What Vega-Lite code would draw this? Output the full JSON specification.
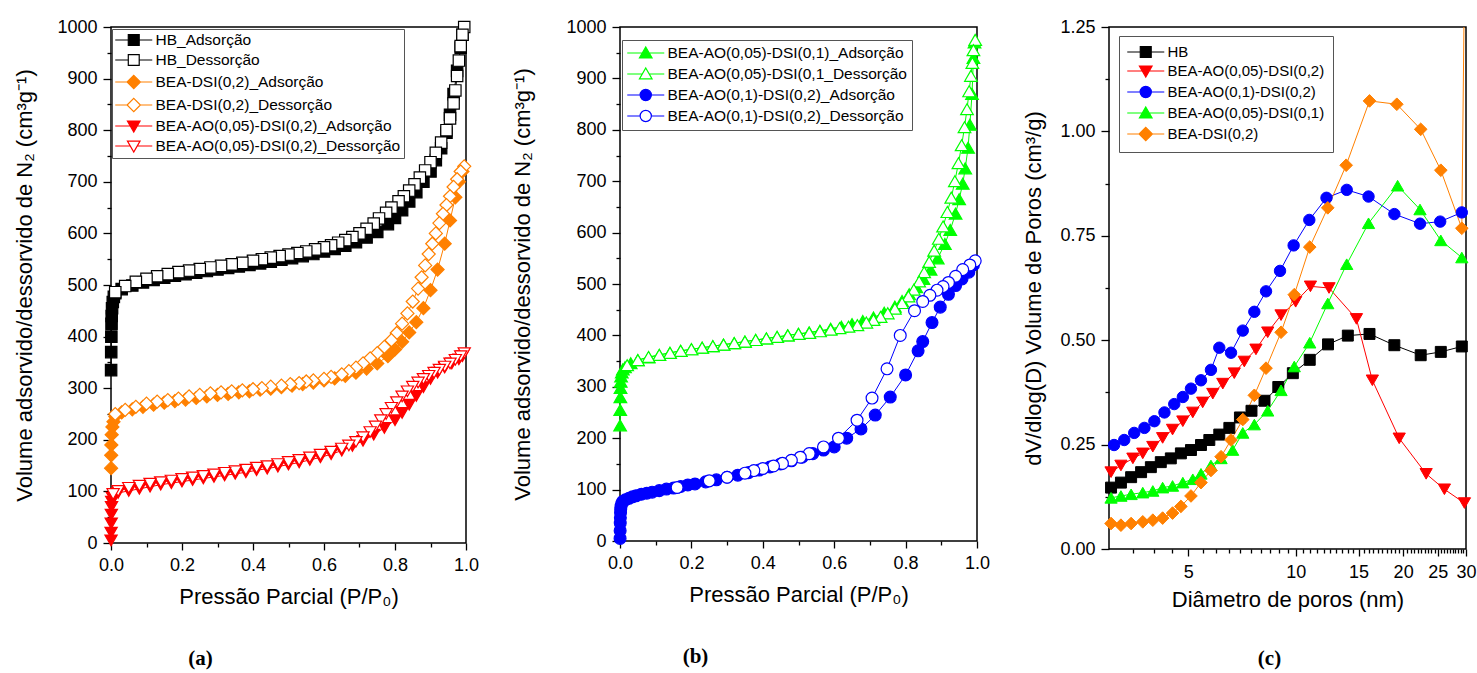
{
"$schema": "https://vega.github.io/schema/vega-lite/v6.json",
"background": "white",
"padding": {"left": 13, "top": 17, "right": 2, "bottom": 2},
"spacing": 31,
"resolve": {"scale": {"stroke": "independent", "fill": "independent", "shape": "independent"}, "legend": {"stroke": "independent", "fill": "independent", "shape": "independent"}},
"config": {
  "font": "Liberation Sans",
  "view": {"stroke": "black", "strokeWidth": 1.5},
  "axis": {"grid": false, "domain": false, "tickColor": "black", "tickWidth": 1.3, "labelColor": "black", "titleColor": "black", "labelFont": "Liberation Sans", "titleFont": "Liberation Sans", "labelFontSize": 18, "titleFontSize": 22, "titleFontWeight": "normal", "labelOverlap": false, "labelFlush": false, "labelBound": false},
  "legend": {"orient": "none", "strokeColor": "#555555", "fillColor": "white", "padding": 3, "labelFont": "Liberation Sans", "labelColor": "black", "labelLimit": 0, "symbolSize": 196, "labelOffset": 24.5, "rowPadding": 3, "symbolStrokeWidth": 1.2, "symbolOpacity": 1},
  "title": {"font": "Liberation Serif", "fontSize": 21, "fontWeight": "bold", "color": "black", "orient": "bottom", "anchor": "middle"}
},
"datasets": {
"a": [
{"s":"HB_Adsorção","p":0.0003,"v":335},{"s":"HB_Adsorção","p":0.0006,"v":370},{"s":"HB_Adsorção","p":0.001,"v":400},{"s":"HB_Adsorção","p":0.0015,"v":425},{"s":"HB_Adsorção","p":0.002,"v":440},{"s":"HB_Adsorção","p":0.003,"v":455},{"s":"HB_Adsorção","p":0.005,"v":467},{"s":"HB_Adsorção","p":0.008,"v":477},{"s":"HB_Adsorção","p":0.012,"v":484},{"s":"HB_Adsorção","p":0.03,"v":492},{"s":"HB_Adsorção","p":0.06,"v":499},{"s":"HB_Adsorção","p":0.09,"v":505},{"s":"HB_Adsorção","p":0.12,"v":510},{"s":"HB_Adsorção","p":0.15,"v":514},{"s":"HB_Adsorção","p":0.18,"v":518},{"s":"HB_Adsorção","p":0.21,"v":521},{"s":"HB_Adsorção","p":0.24,"v":524},{"s":"HB_Adsorção","p":0.27,"v":527},{"s":"HB_Adsorção","p":0.30,"v":530},{"s":"HB_Adsorção","p":0.33,"v":533},{"s":"HB_Adsorção","p":0.36,"v":536},{"s":"HB_Adsorção","p":0.39,"v":539},{"s":"HB_Adsorção","p":0.42,"v":542},{"s":"HB_Adsorção","p":0.45,"v":545},{"s":"HB_Adsorção","p":0.48,"v":549},{"s":"HB_Adsorção","p":0.51,"v":552},{"s":"HB_Adsorção","p":0.54,"v":556},{"s":"HB_Adsorção","p":0.57,"v":560},{"s":"HB_Adsorção","p":0.60,"v":565},{"s":"HB_Adsorção","p":0.63,"v":570},{"s":"HB_Adsorção","p":0.66,"v":576},{"s":"HB_Adsorção","p":0.69,"v":583},{"s":"HB_Adsorção","p":0.72,"v":592},{"s":"HB_Adsorção","p":0.75,"v":603},{"s":"HB_Adsorção","p":0.78,"v":618},{"s":"HB_Adsorção","p":0.80,"v":630},{"s":"HB_Adsorção","p":0.82,"v":645},{"s":"HB_Adsorção","p":0.84,"v":662},{"s":"HB_Adsorção","p":0.86,"v":680},{"s":"HB_Adsorção","p":0.88,"v":700},{"s":"HB_Adsorção","p":0.90,"v":720},{"s":"HB_Adsorção","p":0.915,"v":742},{"s":"HB_Adsorção","p":0.93,"v":765},{"s":"HB_Adsorção","p":0.945,"v":795},{"s":"HB_Adsorção","p":0.955,"v":830},{"s":"HB_Adsorção","p":0.965,"v":870},{"s":"HB_Adsorção","p":0.975,"v":915},{"s":"HB_Adsorção","p":0.985,"v":960},{"s":"HB_Adsorção","p":0.99,"v":985},
{"s":"HB_Dessorção","p":0.995,"v":1000},{"s":"HB_Dessorção","p":0.99,"v":985},{"s":"HB_Dessorção","p":0.985,"v":963},{"s":"HB_Dessorção","p":0.98,"v":935},{"s":"HB_Dessorção","p":0.975,"v":905},{"s":"HB_Dessorção","p":0.97,"v":877},{"s":"HB_Dessorção","p":0.965,"v":852},{"s":"HB_Dessorção","p":0.955,"v":823},{"s":"HB_Dessorção","p":0.945,"v":800},{"s":"HB_Dessorção","p":0.93,"v":776},{"s":"HB_Dessorção","p":0.915,"v":756},{"s":"HB_Dessorção","p":0.90,"v":738},{"s":"HB_Dessorção","p":0.885,"v":722},{"s":"HB_Dessorção","p":0.87,"v":708},{"s":"HB_Dessorção","p":0.855,"v":695},{"s":"HB_Dessorção","p":0.84,"v":683},{"s":"HB_Dessorção","p":0.825,"v":672},{"s":"HB_Dessorção","p":0.81,"v":662},{"s":"HB_Dessorção","p":0.79,"v":650},{"s":"HB_Dessorção","p":0.775,"v":640},{"s":"HB_Dessorção","p":0.755,"v":629},{"s":"HB_Dessorção","p":0.74,"v":619},{"s":"HB_Dessorção","p":0.72,"v":609},{"s":"HB_Dessorção","p":0.70,"v":600},{"s":"HB_Dessorção","p":0.68,"v":593},{"s":"HB_Dessorção","p":0.66,"v":587},{"s":"HB_Dessorção","p":0.64,"v":582},{"s":"HB_Dessorção","p":0.62,"v":577},{"s":"HB_Dessorção","p":0.60,"v":573},{"s":"HB_Dessorção","p":0.575,"v":569},{"s":"HB_Dessorção","p":0.55,"v":565},{"s":"HB_Dessorção","p":0.525,"v":562},{"s":"HB_Dessorção","p":0.50,"v":559},{"s":"HB_Dessorção","p":0.475,"v":556},{"s":"HB_Dessorção","p":0.45,"v":553},{"s":"HB_Dessorção","p":0.425,"v":550},{"s":"HB_Dessorção","p":0.40,"v":547},{"s":"HB_Dessorção","p":0.37,"v":543},{"s":"HB_Dessorção","p":0.34,"v":540},{"s":"HB_Dessorção","p":0.31,"v":537},{"s":"HB_Dessorção","p":0.28,"v":534},{"s":"HB_Dessorção","p":0.25,"v":531},{"s":"HB_Dessorção","p":0.22,"v":528},{"s":"HB_Dessorção","p":0.19,"v":525},{"s":"HB_Dessorção","p":0.16,"v":521},{"s":"HB_Dessorção","p":0.13,"v":517},{"s":"HB_Dessorção","p":0.10,"v":512},{"s":"HB_Dessorção","p":0.07,"v":506},{"s":"HB_Dessorção","p":0.04,"v":498},{"s":"HB_Dessorção","p":0.012,"v":486},
{"s":"BEA-DSI(0,2)_Adsorção","p":0.0003,"v":145},{"s":"BEA-DSI(0,2)_Adsorção","p":0.0006,"v":170},{"s":"BEA-DSI(0,2)_Adsorção","p":0.001,"v":190},{"s":"BEA-DSI(0,2)_Adsorção","p":0.002,"v":210},{"s":"BEA-DSI(0,2)_Adsorção","p":0.004,"v":225},{"s":"BEA-DSI(0,2)_Adsorção","p":0.007,"v":235},{"s":"BEA-DSI(0,2)_Adsorção","p":0.012,"v":245},{"s":"BEA-DSI(0,2)_Adsorção","p":0.03,"v":253},{"s":"BEA-DSI(0,2)_Adsorção","p":0.06,"v":259},{"s":"BEA-DSI(0,2)_Adsorção","p":0.09,"v":264},{"s":"BEA-DSI(0,2)_Adsorção","p":0.12,"v":268},{"s":"BEA-DSI(0,2)_Adsorção","p":0.15,"v":272},{"s":"BEA-DSI(0,2)_Adsorção","p":0.18,"v":275},{"s":"BEA-DSI(0,2)_Adsorção","p":0.21,"v":278},{"s":"BEA-DSI(0,2)_Adsorção","p":0.24,"v":281},{"s":"BEA-DSI(0,2)_Adsorção","p":0.27,"v":284},{"s":"BEA-DSI(0,2)_Adsorção","p":0.30,"v":287},{"s":"BEA-DSI(0,2)_Adsorção","p":0.33,"v":289},{"s":"BEA-DSI(0,2)_Adsorção","p":0.36,"v":292},{"s":"BEA-DSI(0,2)_Adsorção","p":0.39,"v":294},{"s":"BEA-DSI(0,2)_Adsorção","p":0.42,"v":297},{"s":"BEA-DSI(0,2)_Adsorção","p":0.45,"v":299},{"s":"BEA-DSI(0,2)_Adsorção","p":0.48,"v":302},{"s":"BEA-DSI(0,2)_Adsorção","p":0.51,"v":305},{"s":"BEA-DSI(0,2)_Adsorção","p":0.54,"v":308},{"s":"BEA-DSI(0,2)_Adsorção","p":0.57,"v":311},{"s":"BEA-DSI(0,2)_Adsorção","p":0.60,"v":315},{"s":"BEA-DSI(0,2)_Adsorção","p":0.63,"v":319},{"s":"BEA-DSI(0,2)_Adsorção","p":0.66,"v":324},{"s":"BEA-DSI(0,2)_Adsorção","p":0.69,"v":330},{"s":"BEA-DSI(0,2)_Adsorção","p":0.72,"v":338},{"s":"BEA-DSI(0,2)_Adsorção","p":0.75,"v":348},{"s":"BEA-DSI(0,2)_Adsorção","p":0.78,"v":362},{"s":"BEA-DSI(0,2)_Adsorção","p":0.80,"v":375},{"s":"BEA-DSI(0,2)_Adsorção","p":0.82,"v":390},{"s":"BEA-DSI(0,2)_Adsorção","p":0.84,"v":408},{"s":"BEA-DSI(0,2)_Adsorção","p":0.86,"v":428},{"s":"BEA-DSI(0,2)_Adsorção","p":0.88,"v":455},{"s":"BEA-DSI(0,2)_Adsorção","p":0.90,"v":490},{"s":"BEA-DSI(0,2)_Adsorção","p":0.92,"v":530},{"s":"BEA-DSI(0,2)_Adsorção","p":0.94,"v":580},{"s":"BEA-DSI(0,2)_Adsorção","p":0.955,"v":625},{"s":"BEA-DSI(0,2)_Adsorção","p":0.97,"v":670},{"s":"BEA-DSI(0,2)_Adsorção","p":0.98,"v":700},{"s":"BEA-DSI(0,2)_Adsorção","p":0.99,"v":720},
{"s":"BEA-DSI(0,2)_Dessorção","p":0.995,"v":730},{"s":"BEA-DSI(0,2)_Dessorção","p":0.985,"v":720},{"s":"BEA-DSI(0,2)_Dessorção","p":0.975,"v":705},{"s":"BEA-DSI(0,2)_Dessorção","p":0.965,"v":690},{"s":"BEA-DSI(0,2)_Dessorção","p":0.955,"v":672},{"s":"BEA-DSI(0,2)_Dessorção","p":0.945,"v":655},{"s":"BEA-DSI(0,2)_Dessorção","p":0.935,"v":638},{"s":"BEA-DSI(0,2)_Dessorção","p":0.925,"v":620},{"s":"BEA-DSI(0,2)_Dessorção","p":0.915,"v":600},{"s":"BEA-DSI(0,2)_Dessorção","p":0.905,"v":580},{"s":"BEA-DSI(0,2)_Dessorção","p":0.895,"v":560},{"s":"BEA-DSI(0,2)_Dessorção","p":0.885,"v":538},{"s":"BEA-DSI(0,2)_Dessorção","p":0.875,"v":515},{"s":"BEA-DSI(0,2)_Dessorção","p":0.865,"v":493},{"s":"BEA-DSI(0,2)_Dessorção","p":0.85,"v":468},{"s":"BEA-DSI(0,2)_Dessorção","p":0.835,"v":445},{"s":"BEA-DSI(0,2)_Dessorção","p":0.82,"v":425},{"s":"BEA-DSI(0,2)_Dessorção","p":0.805,"v":407},{"s":"BEA-DSI(0,2)_Dessorção","p":0.79,"v":393},{"s":"BEA-DSI(0,2)_Dessorção","p":0.77,"v":380},{"s":"BEA-DSI(0,2)_Dessorção","p":0.75,"v":368},{"s":"BEA-DSI(0,2)_Dessorção","p":0.73,"v":358},{"s":"BEA-DSI(0,2)_Dessorção","p":0.71,"v":348},{"s":"BEA-DSI(0,2)_Dessorção","p":0.69,"v":340},{"s":"BEA-DSI(0,2)_Dessorção","p":0.67,"v":333},{"s":"BEA-DSI(0,2)_Dessorção","p":0.65,"v":327},{"s":"BEA-DSI(0,2)_Dessorção","p":0.62,"v":322},{"s":"BEA-DSI(0,2)_Dessorção","p":0.60,"v":318},{"s":"BEA-DSI(0,2)_Dessorção","p":0.57,"v":315},{"s":"BEA-DSI(0,2)_Dessorção","p":0.55,"v":313},{"s":"BEA-DSI(0,2)_Dessorção","p":0.53,"v":310},{"s":"BEA-DSI(0,2)_Dessorção","p":0.505,"v":308},{"s":"BEA-DSI(0,2)_Dessorção","p":0.48,"v":305},{"s":"BEA-DSI(0,2)_Dessorção","p":0.45,"v":303},{"s":"BEA-DSI(0,2)_Dessorção","p":0.425,"v":300},{"s":"BEA-DSI(0,2)_Dessorção","p":0.40,"v":298},{"s":"BEA-DSI(0,2)_Dessorção","p":0.37,"v":296},{"s":"BEA-DSI(0,2)_Dessorção","p":0.34,"v":294},{"s":"BEA-DSI(0,2)_Dessorção","p":0.31,"v":292},{"s":"BEA-DSI(0,2)_Dessorção","p":0.28,"v":290},{"s":"BEA-DSI(0,2)_Dessorção","p":0.25,"v":287},{"s":"BEA-DSI(0,2)_Dessorção","p":0.22,"v":284},{"s":"BEA-DSI(0,2)_Dessorção","p":0.19,"v":280},{"s":"BEA-DSI(0,2)_Dessorção","p":0.16,"v":277},{"s":"BEA-DSI(0,2)_Dessorção","p":0.13,"v":274},{"s":"BEA-DSI(0,2)_Dessorção","p":0.10,"v":270},{"s":"BEA-DSI(0,2)_Dessorção","p":0.07,"v":264},{"s":"BEA-DSI(0,2)_Dessorção","p":0.04,"v":258},{"s":"BEA-DSI(0,2)_Dessorção","p":0.012,"v":250},
{"s":"BEA-AO(0,05)-DSI(0,2)_Adsorção","p":0.0001,"v":5},{"s":"BEA-AO(0,05)-DSI(0,2)_Adsorção","p":0.0003,"v":20},{"s":"BEA-AO(0,05)-DSI(0,2)_Adsorção","p":0.0006,"v":38},{"s":"BEA-AO(0,05)-DSI(0,2)_Adsorção","p":0.001,"v":55},{"s":"BEA-AO(0,05)-DSI(0,2)_Adsorção","p":0.0015,"v":70},{"s":"BEA-AO(0,05)-DSI(0,2)_Adsorção","p":0.002,"v":80},{"s":"BEA-AO(0,05)-DSI(0,2)_Adsorção","p":0.004,"v":88},{"s":"BEA-AO(0,05)-DSI(0,2)_Adsorção","p":0.008,"v":93},{"s":"BEA-AO(0,05)-DSI(0,2)_Adsorção","p":0.02,"v":97},{"s":"BEA-AO(0,05)-DSI(0,2)_Adsorção","p":0.05,"v":101},{"s":"BEA-AO(0,05)-DSI(0,2)_Adsorção","p":0.08,"v":105},{"s":"BEA-AO(0,05)-DSI(0,2)_Adsorção","p":0.11,"v":109},{"s":"BEA-AO(0,05)-DSI(0,2)_Adsorção","p":0.14,"v":113},{"s":"BEA-AO(0,05)-DSI(0,2)_Adsorção","p":0.17,"v":116},{"s":"BEA-AO(0,05)-DSI(0,2)_Adsorção","p":0.20,"v":119},{"s":"BEA-AO(0,05)-DSI(0,2)_Adsorção","p":0.23,"v":122},{"s":"BEA-AO(0,05)-DSI(0,2)_Adsorção","p":0.26,"v":125},{"s":"BEA-AO(0,05)-DSI(0,2)_Adsorção","p":0.29,"v":128},{"s":"BEA-AO(0,05)-DSI(0,2)_Adsorção","p":0.32,"v":131},{"s":"BEA-AO(0,05)-DSI(0,2)_Adsorção","p":0.35,"v":134},{"s":"BEA-AO(0,05)-DSI(0,2)_Adsorção","p":0.38,"v":137},{"s":"BEA-AO(0,05)-DSI(0,2)_Adsorção","p":0.41,"v":141},{"s":"BEA-AO(0,05)-DSI(0,2)_Adsorção","p":0.44,"v":144},{"s":"BEA-AO(0,05)-DSI(0,2)_Adsorção","p":0.47,"v":148},{"s":"BEA-AO(0,05)-DSI(0,2)_Adsorção","p":0.50,"v":152},{"s":"BEA-AO(0,05)-DSI(0,2)_Adsorção","p":0.53,"v":156},{"s":"BEA-AO(0,05)-DSI(0,2)_Adsorção","p":0.56,"v":161},{"s":"BEA-AO(0,05)-DSI(0,2)_Adsorção","p":0.59,"v":166},{"s":"BEA-AO(0,05)-DSI(0,2)_Adsorção","p":0.62,"v":172},{"s":"BEA-AO(0,05)-DSI(0,2)_Adsorção","p":0.65,"v":179},{"s":"BEA-AO(0,05)-DSI(0,2)_Adsorção","p":0.68,"v":188},{"s":"BEA-AO(0,05)-DSI(0,2)_Adsorção","p":0.71,"v":198},{"s":"BEA-AO(0,05)-DSI(0,2)_Adsorção","p":0.74,"v":210},{"s":"BEA-AO(0,05)-DSI(0,2)_Adsorção","p":0.77,"v":223},{"s":"BEA-AO(0,05)-DSI(0,2)_Adsorção","p":0.80,"v":238},{"s":"BEA-AO(0,05)-DSI(0,2)_Adsorção","p":0.82,"v":252},{"s":"BEA-AO(0,05)-DSI(0,2)_Adsorção","p":0.84,"v":268},{"s":"BEA-AO(0,05)-DSI(0,2)_Adsorção","p":0.86,"v":285},{"s":"BEA-AO(0,05)-DSI(0,2)_Adsorção","p":0.88,"v":302},{"s":"BEA-AO(0,05)-DSI(0,2)_Adsorção","p":0.90,"v":318},{"s":"BEA-AO(0,05)-DSI(0,2)_Adsorção","p":0.92,"v":330},{"s":"BEA-AO(0,05)-DSI(0,2)_Adsorção","p":0.94,"v":340},{"s":"BEA-AO(0,05)-DSI(0,2)_Adsorção","p":0.96,"v":348},{"s":"BEA-AO(0,05)-DSI(0,2)_Adsorção","p":0.98,"v":356},{"s":"BEA-AO(0,05)-DSI(0,2)_Adsorção","p":0.99,"v":362},
{"s":"BEA-AO(0,05)-DSI(0,2)_Dessorção","p":0.995,"v":368},{"s":"BEA-AO(0,05)-DSI(0,2)_Dessorção","p":0.985,"v":362},{"s":"BEA-AO(0,05)-DSI(0,2)_Dessorção","p":0.97,"v":355},{"s":"BEA-AO(0,05)-DSI(0,2)_Dessorção","p":0.955,"v":348},{"s":"BEA-AO(0,05)-DSI(0,2)_Dessorção","p":0.94,"v":342},{"s":"BEA-AO(0,05)-DSI(0,2)_Dessorção","p":0.925,"v":336},{"s":"BEA-AO(0,05)-DSI(0,2)_Dessorção","p":0.91,"v":330},{"s":"BEA-AO(0,05)-DSI(0,2)_Dessorção","p":0.895,"v":324},{"s":"BEA-AO(0,05)-DSI(0,2)_Dessorção","p":0.88,"v":318},{"s":"BEA-AO(0,05)-DSI(0,2)_Dessorção","p":0.865,"v":311},{"s":"BEA-AO(0,05)-DSI(0,2)_Dessorção","p":0.85,"v":303},{"s":"BEA-AO(0,05)-DSI(0,2)_Dessorção","p":0.835,"v":294},{"s":"BEA-AO(0,05)-DSI(0,2)_Dessorção","p":0.82,"v":284},{"s":"BEA-AO(0,05)-DSI(0,2)_Dessorção","p":0.805,"v":273},{"s":"BEA-AO(0,05)-DSI(0,2)_Dessorção","p":0.79,"v":262},{"s":"BEA-AO(0,05)-DSI(0,2)_Dessorção","p":0.775,"v":250},{"s":"BEA-AO(0,05)-DSI(0,2)_Dessorção","p":0.76,"v":238},{"s":"BEA-AO(0,05)-DSI(0,2)_Dessorção","p":0.745,"v":226},{"s":"BEA-AO(0,05)-DSI(0,2)_Dessorção","p":0.73,"v":215},{"s":"BEA-AO(0,05)-DSI(0,2)_Dessorção","p":0.71,"v":205},{"s":"BEA-AO(0,05)-DSI(0,2)_Dessorção","p":0.69,"v":196},{"s":"BEA-AO(0,05)-DSI(0,2)_Dessorção","p":0.67,"v":189},{"s":"BEA-AO(0,05)-DSI(0,2)_Dessorção","p":0.65,"v":183},{"s":"BEA-AO(0,05)-DSI(0,2)_Dessorção","p":0.62,"v":177},{"s":"BEA-AO(0,05)-DSI(0,2)_Dessorção","p":0.59,"v":171},{"s":"BEA-AO(0,05)-DSI(0,2)_Dessorção","p":0.56,"v":166},{"s":"BEA-AO(0,05)-DSI(0,2)_Dessorção","p":0.53,"v":161},{"s":"BEA-AO(0,05)-DSI(0,2)_Dessorção","p":0.50,"v":157},{"s":"BEA-AO(0,05)-DSI(0,2)_Dessorção","p":0.47,"v":153},{"s":"BEA-AO(0,05)-DSI(0,2)_Dessorção","p":0.44,"v":149},{"s":"BEA-AO(0,05)-DSI(0,2)_Dessorção","p":0.41,"v":146},{"s":"BEA-AO(0,05)-DSI(0,2)_Dessorção","p":0.38,"v":142},{"s":"BEA-AO(0,05)-DSI(0,2)_Dessorção","p":0.35,"v":139},{"s":"BEA-AO(0,05)-DSI(0,2)_Dessorção","p":0.32,"v":136},{"s":"BEA-AO(0,05)-DSI(0,2)_Dessorção","p":0.29,"v":133},{"s":"BEA-AO(0,05)-DSI(0,2)_Dessorção","p":0.26,"v":130},{"s":"BEA-AO(0,05)-DSI(0,2)_Dessorção","p":0.23,"v":127},{"s":"BEA-AO(0,05)-DSI(0,2)_Dessorção","p":0.20,"v":124},{"s":"BEA-AO(0,05)-DSI(0,2)_Dessorção","p":0.17,"v":121},{"s":"BEA-AO(0,05)-DSI(0,2)_Dessorção","p":0.14,"v":118},{"s":"BEA-AO(0,05)-DSI(0,2)_Dessorção","p":0.11,"v":115},{"s":"BEA-AO(0,05)-DSI(0,2)_Dessorção","p":0.08,"v":111},{"s":"BEA-AO(0,05)-DSI(0,2)_Dessorção","p":0.05,"v":107},{"s":"BEA-AO(0,05)-DSI(0,2)_Dessorção","p":0.02,"v":101},{"s":"BEA-AO(0,05)-DSI(0,2)_Dessorção","p":0.006,"v":95}
],
"b": [
{"s":"BEA-AO(0,05)-DSI(0,1)_Adsorção","p":0.0003,"v":225},{"s":"BEA-AO(0,05)-DSI(0,1)_Adsorção","p":0.0006,"v":255},{"s":"BEA-AO(0,05)-DSI(0,1)_Adsorção","p":0.001,"v":280},{"s":"BEA-AO(0,05)-DSI(0,1)_Adsorção","p":0.0015,"v":298},{"s":"BEA-AO(0,05)-DSI(0,1)_Adsorção","p":0.002,"v":310},{"s":"BEA-AO(0,05)-DSI(0,1)_Adsorção","p":0.003,"v":320},{"s":"BEA-AO(0,05)-DSI(0,1)_Adsorção","p":0.005,"v":328},{"s":"BEA-AO(0,05)-DSI(0,1)_Adsorção","p":0.008,"v":334},{"s":"BEA-AO(0,05)-DSI(0,1)_Adsorção","p":0.014,"v":338},{"s":"BEA-AO(0,05)-DSI(0,1)_Adsorção","p":0.03,"v":346},{"s":"BEA-AO(0,05)-DSI(0,1)_Adsorção","p":0.05,"v":352},{"s":"BEA-AO(0,05)-DSI(0,1)_Adsorção","p":0.08,"v":357},{"s":"BEA-AO(0,05)-DSI(0,1)_Adsorção","p":0.11,"v":362},{"s":"BEA-AO(0,05)-DSI(0,1)_Adsorção","p":0.14,"v":366},{"s":"BEA-AO(0,05)-DSI(0,1)_Adsorção","p":0.17,"v":370},{"s":"BEA-AO(0,05)-DSI(0,1)_Adsorção","p":0.20,"v":373},{"s":"BEA-AO(0,05)-DSI(0,1)_Adsorção","p":0.23,"v":376},{"s":"BEA-AO(0,05)-DSI(0,1)_Adsorção","p":0.26,"v":379},{"s":"BEA-AO(0,05)-DSI(0,1)_Adsorção","p":0.29,"v":382},{"s":"BEA-AO(0,05)-DSI(0,1)_Adsorção","p":0.32,"v":385},{"s":"BEA-AO(0,05)-DSI(0,1)_Adsorção","p":0.35,"v":388},{"s":"BEA-AO(0,05)-DSI(0,1)_Adsorção","p":0.38,"v":391},{"s":"BEA-AO(0,05)-DSI(0,1)_Adsorção","p":0.41,"v":394},{"s":"BEA-AO(0,05)-DSI(0,1)_Adsorção","p":0.44,"v":397},{"s":"BEA-AO(0,05)-DSI(0,1)_Adsorção","p":0.47,"v":400},{"s":"BEA-AO(0,05)-DSI(0,1)_Adsorção","p":0.50,"v":403},{"s":"BEA-AO(0,05)-DSI(0,1)_Adsorção","p":0.53,"v":406},{"s":"BEA-AO(0,05)-DSI(0,1)_Adsorção","p":0.56,"v":409},{"s":"BEA-AO(0,05)-DSI(0,1)_Adsorção","p":0.59,"v":413},{"s":"BEA-AO(0,05)-DSI(0,1)_Adsorção","p":0.62,"v":417},{"s":"BEA-AO(0,05)-DSI(0,1)_Adsorção","p":0.65,"v":422},{"s":"BEA-AO(0,05)-DSI(0,1)_Adsorção","p":0.68,"v":428},{"s":"BEA-AO(0,05)-DSI(0,1)_Adsorção","p":0.71,"v":435},{"s":"BEA-AO(0,05)-DSI(0,1)_Adsorção","p":0.74,"v":444},{"s":"BEA-AO(0,05)-DSI(0,1)_Adsorção","p":0.77,"v":456},{"s":"BEA-AO(0,05)-DSI(0,1)_Adsorção","p":0.79,"v":467},{"s":"BEA-AO(0,05)-DSI(0,1)_Adsorção","p":0.81,"v":480},{"s":"BEA-AO(0,05)-DSI(0,1)_Adsorção","p":0.83,"v":494},{"s":"BEA-AO(0,05)-DSI(0,1)_Adsorção","p":0.85,"v":510},{"s":"BEA-AO(0,05)-DSI(0,1)_Adsorção","p":0.87,"v":528},{"s":"BEA-AO(0,05)-DSI(0,1)_Adsorção","p":0.89,"v":550},{"s":"BEA-AO(0,05)-DSI(0,1)_Adsorção","p":0.91,"v":578},{"s":"BEA-AO(0,05)-DSI(0,1)_Adsorção","p":0.925,"v":605},{"s":"BEA-AO(0,05)-DSI(0,1)_Adsorção","p":0.94,"v":637},{"s":"BEA-AO(0,05)-DSI(0,1)_Adsorção","p":0.95,"v":665},{"s":"BEA-AO(0,05)-DSI(0,1)_Adsorção","p":0.96,"v":695},{"s":"BEA-AO(0,05)-DSI(0,1)_Adsorção","p":0.967,"v":725},{"s":"BEA-AO(0,05)-DSI(0,1)_Adsorção","p":0.975,"v":765},{"s":"BEA-AO(0,05)-DSI(0,1)_Adsorção","p":0.98,"v":810},{"s":"BEA-AO(0,05)-DSI(0,1)_Adsorção","p":0.986,"v":870},{"s":"BEA-AO(0,05)-DSI(0,1)_Adsorção","p":0.99,"v":940},{"s":"BEA-AO(0,05)-DSI(0,1)_Adsorção","p":0.993,"v":970},
{"s":"BEA-AO(0,05)-DSI(0,1_Dessorção","p":0.995,"v":975},{"s":"BEA-AO(0,05)-DSI(0,1_Dessorção","p":0.99,"v":955},{"s":"BEA-AO(0,05)-DSI(0,1_Dessorção","p":0.987,"v":930},{"s":"BEA-AO(0,05)-DSI(0,1_Dessorção","p":0.983,"v":905},{"s":"BEA-AO(0,05)-DSI(0,1_Dessorção","p":0.978,"v":875},{"s":"BEA-AO(0,05)-DSI(0,1_Dessorção","p":0.972,"v":840},{"s":"BEA-AO(0,05)-DSI(0,1_Dessorção","p":0.965,"v":805},{"s":"BEA-AO(0,05)-DSI(0,1_Dessorção","p":0.957,"v":770},{"s":"BEA-AO(0,05)-DSI(0,1_Dessorção","p":0.948,"v":735},{"s":"BEA-AO(0,05)-DSI(0,1_Dessorção","p":0.938,"v":700},{"s":"BEA-AO(0,05)-DSI(0,1_Dessorção","p":0.928,"v":668},{"s":"BEA-AO(0,05)-DSI(0,1_Dessorção","p":0.917,"v":640},{"s":"BEA-AO(0,05)-DSI(0,1_Dessorção","p":0.905,"v":612},{"s":"BEA-AO(0,05)-DSI(0,1_Dessorção","p":0.893,"v":588},{"s":"BEA-AO(0,05)-DSI(0,1_Dessorção","p":0.88,"v":565},{"s":"BEA-AO(0,05)-DSI(0,1_Dessorção","p":0.866,"v":543},{"s":"BEA-AO(0,05)-DSI(0,1_Dessorção","p":0.852,"v":523},{"s":"BEA-AO(0,05)-DSI(0,1_Dessorção","p":0.838,"v":505},{"s":"BEA-AO(0,05)-DSI(0,1_Dessorção","p":0.823,"v":489},{"s":"BEA-AO(0,05)-DSI(0,1_Dessorção","p":0.808,"v":476},{"s":"BEA-AO(0,05)-DSI(0,1_Dessorção","p":0.79,"v":463},{"s":"BEA-AO(0,05)-DSI(0,1_Dessorção","p":0.77,"v":452},{"s":"BEA-AO(0,05)-DSI(0,1_Dessorção","p":0.75,"v":443},{"s":"BEA-AO(0,05)-DSI(0,1_Dessorção","p":0.73,"v":436},{"s":"BEA-AO(0,05)-DSI(0,1_Dessorção","p":0.71,"v":430},{"s":"BEA-AO(0,05)-DSI(0,1_Dessorção","p":0.69,"v":425},{"s":"BEA-AO(0,05)-DSI(0,1_Dessorção","p":0.665,"v":420},{"s":"BEA-AO(0,05)-DSI(0,1_Dessorção","p":0.64,"v":417},{"s":"BEA-AO(0,05)-DSI(0,1_Dessorção","p":0.615,"v":414},{"s":"BEA-AO(0,05)-DSI(0,1_Dessorção","p":0.59,"v":411},{"s":"BEA-AO(0,05)-DSI(0,1_Dessorção","p":0.56,"v":408},{"s":"BEA-AO(0,05)-DSI(0,1_Dessorção","p":0.53,"v":405},{"s":"BEA-AO(0,05)-DSI(0,1_Dessorção","p":0.50,"v":403},{"s":"BEA-AO(0,05)-DSI(0,1_Dessorção","p":0.47,"v":400},{"s":"BEA-AO(0,05)-DSI(0,1_Dessorção","p":0.44,"v":397},{"s":"BEA-AO(0,05)-DSI(0,1_Dessorção","p":0.41,"v":394},{"s":"BEA-AO(0,05)-DSI(0,1_Dessorção","p":0.38,"v":391},{"s":"BEA-AO(0,05)-DSI(0,1_Dessorção","p":0.35,"v":388},{"s":"BEA-AO(0,05)-DSI(0,1_Dessorção","p":0.32,"v":385},{"s":"BEA-AO(0,05)-DSI(0,1_Dessorção","p":0.29,"v":382},{"s":"BEA-AO(0,05)-DSI(0,1_Dessorção","p":0.26,"v":379},{"s":"BEA-AO(0,05)-DSI(0,1_Dessorção","p":0.23,"v":376},{"s":"BEA-AO(0,05)-DSI(0,1_Dessorção","p":0.20,"v":373},{"s":"BEA-AO(0,05)-DSI(0,1_Dessorção","p":0.17,"v":370},{"s":"BEA-AO(0,05)-DSI(0,1_Dessorção","p":0.14,"v":366},{"s":"BEA-AO(0,05)-DSI(0,1_Dessorção","p":0.11,"v":362},{"s":"BEA-AO(0,05)-DSI(0,1_Dessorção","p":0.08,"v":358},{"s":"BEA-AO(0,05)-DSI(0,1_Dessorção","p":0.05,"v":352},{"s":"BEA-AO(0,05)-DSI(0,1_Dessorção","p":0.02,"v":342},
{"s":"BEA-AO(0,1)-DSI(0,2)_Adsorção","p":0.0002,"v":5},{"s":"BEA-AO(0,1)-DSI(0,2)_Adsorção","p":0.0004,"v":20},{"s":"BEA-AO(0,1)-DSI(0,2)_Adsorção","p":0.0007,"v":35},{"s":"BEA-AO(0,1)-DSI(0,2)_Adsorção","p":0.001,"v":45},{"s":"BEA-AO(0,1)-DSI(0,2)_Adsorção","p":0.0015,"v":55},{"s":"BEA-AO(0,1)-DSI(0,2)_Adsorção","p":0.002,"v":62},{"s":"BEA-AO(0,1)-DSI(0,2)_Adsorção","p":0.003,"v":68},{"s":"BEA-AO(0,1)-DSI(0,2)_Adsorção","p":0.005,"v":73},{"s":"BEA-AO(0,1)-DSI(0,2)_Adsorção","p":0.008,"v":77},{"s":"BEA-AO(0,1)-DSI(0,2)_Adsorção","p":0.015,"v":80},{"s":"BEA-AO(0,1)-DSI(0,2)_Adsorção","p":0.025,"v":83},{"s":"BEA-AO(0,1)-DSI(0,2)_Adsorção","p":0.035,"v":86},{"s":"BEA-AO(0,1)-DSI(0,2)_Adsorção","p":0.045,"v":88},{"s":"BEA-AO(0,1)-DSI(0,2)_Adsorção","p":0.06,"v":91},{"s":"BEA-AO(0,1)-DSI(0,2)_Adsorção","p":0.075,"v":93},{"s":"BEA-AO(0,1)-DSI(0,2)_Adsorção","p":0.09,"v":95},{"s":"BEA-AO(0,1)-DSI(0,2)_Adsorção","p":0.11,"v":98},{"s":"BEA-AO(0,1)-DSI(0,2)_Adsorção","p":0.13,"v":101},{"s":"BEA-AO(0,1)-DSI(0,2)_Adsorção","p":0.15,"v":103},{"s":"BEA-AO(0,1)-DSI(0,2)_Adsorção","p":0.17,"v":106},{"s":"BEA-AO(0,1)-DSI(0,2)_Adsorção","p":0.19,"v":109},{"s":"BEA-AO(0,1)-DSI(0,2)_Adsorção","p":0.21,"v":111},{"s":"BEA-AO(0,1)-DSI(0,2)_Adsorção","p":0.24,"v":115},{"s":"BEA-AO(0,1)-DSI(0,2)_Adsorção","p":0.27,"v":119},{"s":"BEA-AO(0,1)-DSI(0,2)_Adsorção","p":0.30,"v":124},{"s":"BEA-AO(0,1)-DSI(0,2)_Adsorção","p":0.33,"v":128},{"s":"BEA-AO(0,1)-DSI(0,2)_Adsorção","p":0.36,"v":133},{"s":"BEA-AO(0,1)-DSI(0,2)_Adsorção","p":0.39,"v":138},{"s":"BEA-AO(0,1)-DSI(0,2)_Adsorção","p":0.42,"v":144},{"s":"BEA-AO(0,1)-DSI(0,2)_Adsorção","p":0.45,"v":150},{"s":"BEA-AO(0,1)-DSI(0,2)_Adsorção","p":0.48,"v":156},{"s":"BEA-AO(0,1)-DSI(0,2)_Adsorção","p":0.51,"v":163},{"s":"BEA-AO(0,1)-DSI(0,2)_Adsorção","p":0.54,"v":170},{"s":"BEA-AO(0,1)-DSI(0,2)_Adsorção","p":0.57,"v":177},{"s":"BEA-AO(0,1)-DSI(0,2)_Adsorção","p":0.60,"v":183},{"s":"BEA-AO(0,1)-DSI(0,2)_Adsorção","p":0.635,"v":200},{"s":"BEA-AO(0,1)-DSI(0,2)_Adsorção","p":0.675,"v":218},{"s":"BEA-AO(0,1)-DSI(0,2)_Adsorção","p":0.715,"v":245},{"s":"BEA-AO(0,1)-DSI(0,2)_Adsorção","p":0.757,"v":280},{"s":"BEA-AO(0,1)-DSI(0,2)_Adsorção","p":0.80,"v":323},{"s":"BEA-AO(0,1)-DSI(0,2)_Adsorção","p":0.835,"v":370},{"s":"BEA-AO(0,1)-DSI(0,2)_Adsorção","p":0.848,"v":388},{"s":"BEA-AO(0,1)-DSI(0,2)_Adsorção","p":0.874,"v":425},{"s":"BEA-AO(0,1)-DSI(0,2)_Adsorção","p":0.897,"v":455},{"s":"BEA-AO(0,1)-DSI(0,2)_Adsorção","p":0.92,"v":480},{"s":"BEA-AO(0,1)-DSI(0,2)_Adsorção","p":0.94,"v":497},{"s":"BEA-AO(0,1)-DSI(0,2)_Adsorção","p":0.958,"v":510},{"s":"BEA-AO(0,1)-DSI(0,2)_Adsorção","p":0.977,"v":523},{"s":"BEA-AO(0,1)-DSI(0,2)_Adsorção","p":0.99,"v":537},
{"s":"BEA-AO(0,1)-DSI(0,2)_Dessorção","p":0.995,"v":545},{"s":"BEA-AO(0,1)-DSI(0,2)_Dessorção","p":0.98,"v":537},{"s":"BEA-AO(0,1)-DSI(0,2)_Dessorção","p":0.96,"v":528},{"s":"BEA-AO(0,1)-DSI(0,2)_Dessorção","p":0.94,"v":515},{"s":"BEA-AO(0,1)-DSI(0,2)_Dessorção","p":0.92,"v":503},{"s":"BEA-AO(0,1)-DSI(0,2)_Dessorção","p":0.905,"v":495},{"s":"BEA-AO(0,1)-DSI(0,2)_Dessorção","p":0.888,"v":488},{"s":"BEA-AO(0,1)-DSI(0,2)_Dessorção","p":0.868,"v":478},{"s":"BEA-AO(0,1)-DSI(0,2)_Dessorção","p":0.848,"v":466},{"s":"BEA-AO(0,1)-DSI(0,2)_Dessorção","p":0.825,"v":448},{"s":"BEA-AO(0,1)-DSI(0,2)_Dessorção","p":0.785,"v":400},{"s":"BEA-AO(0,1)-DSI(0,2)_Dessorção","p":0.748,"v":335},{"s":"BEA-AO(0,1)-DSI(0,2)_Dessorção","p":0.706,"v":278},{"s":"BEA-AO(0,1)-DSI(0,2)_Dessorção","p":0.664,"v":235},{"s":"BEA-AO(0,1)-DSI(0,2)_Dessorção","p":0.612,"v":200},{"s":"BEA-AO(0,1)-DSI(0,2)_Dessorção","p":0.57,"v":183},{"s":"BEA-AO(0,1)-DSI(0,2)_Dessorção","p":0.53,"v":170},{"s":"BEA-AO(0,1)-DSI(0,2)_Dessorção","p":0.505,"v":163},{"s":"BEA-AO(0,1)-DSI(0,2)_Dessorção","p":0.48,"v":157},{"s":"BEA-AO(0,1)-DSI(0,2)_Dessorção","p":0.455,"v":151},{"s":"BEA-AO(0,1)-DSI(0,2)_Dessorção","p":0.43,"v":146},{"s":"BEA-AO(0,1)-DSI(0,2)_Dessorção","p":0.40,"v":141},{"s":"BEA-AO(0,1)-DSI(0,2)_Dessorção","p":0.375,"v":137},{"s":"BEA-AO(0,1)-DSI(0,2)_Dessorção","p":0.35,"v":132},{"s":"BEA-AO(0,1)-DSI(0,2)_Dessorção","p":0.30,"v":124},{"s":"BEA-AO(0,1)-DSI(0,2)_Dessorção","p":0.25,"v":117},{"s":"BEA-AO(0,1)-DSI(0,2)_Dessorção","p":0.16,"v":104}
],
"c": [
{"s":"HB","d":3.04,"v":0.147},{"s":"HB","d":3.24,"v":0.159},{"s":"HB","d":3.46,"v":0.172},{"s":"HB","d":3.69,"v":0.184},{"s":"HB","d":3.93,"v":0.196},{"s":"HB","d":4.19,"v":0.208},{"s":"HB","d":4.47,"v":0.217},{"s":"HB","d":4.77,"v":0.229},{"s":"HB","d":5.09,"v":0.237},{"s":"HB","d":5.43,"v":0.249},{"s":"HB","d":5.73,"v":0.261},{"s":"HB","d":6.11,"v":0.274},{"s":"HB","d":6.52,"v":0.29},{"s":"HB","d":6.98,"v":0.315},{"s":"HB","d":7.52,"v":0.331},{"s":"HB","d":8.18,"v":0.355},{"s":"HB","d":8.94,"v":0.388},{"s":"HB","d":9.82,"v":0.421},{"s":"HB","d":10.95,"v":0.453},{"s":"HB","d":12.32,"v":0.49},{"s":"HB","d":14.0,"v":0.511},{"s":"HB","d":16.1,"v":0.515},{"s":"HB","d":18.9,"v":0.488},{"s":"HB","d":22.4,"v":0.464},{"s":"HB","d":25.5,"v":0.472},{"s":"HB","d":29.2,"v":0.485},
{"s":"BEA-AO(0,05)-DSI(0,2)","d":3.04,"v":0.184},{"s":"BEA-AO(0,05)-DSI(0,2)","d":3.24,"v":0.2},{"s":"BEA-AO(0,05)-DSI(0,2)","d":3.5,"v":0.217},{"s":"BEA-AO(0,05)-DSI(0,2)","d":3.73,"v":0.229},{"s":"BEA-AO(0,05)-DSI(0,2)","d":3.98,"v":0.245},{"s":"BEA-AO(0,05)-DSI(0,2)","d":4.24,"v":0.266},{"s":"BEA-AO(0,05)-DSI(0,2)","d":4.52,"v":0.286},{"s":"BEA-AO(0,05)-DSI(0,2)","d":4.83,"v":0.306},{"s":"BEA-AO(0,05)-DSI(0,2)","d":5.15,"v":0.327},{"s":"BEA-AO(0,05)-DSI(0,2)","d":5.49,"v":0.351},{"s":"BEA-AO(0,05)-DSI(0,2)","d":5.86,"v":0.372},{"s":"BEA-AO(0,05)-DSI(0,2)","d":6.25,"v":0.396},{"s":"BEA-AO(0,05)-DSI(0,2)","d":6.73,"v":0.421},{"s":"BEA-AO(0,05)-DSI(0,2)","d":7.18,"v":0.449},{"s":"BEA-AO(0,05)-DSI(0,2)","d":7.74,"v":0.478},{"s":"BEA-AO(0,05)-DSI(0,2)","d":8.35,"v":0.519},{"s":"BEA-AO(0,05)-DSI(0,2)","d":9.1,"v":0.56},{"s":"BEA-AO(0,05)-DSI(0,2)","d":10.0,"v":0.592},{"s":"BEA-AO(0,05)-DSI(0,2)","d":11.0,"v":0.629},{"s":"BEA-AO(0,05)-DSI(0,2)","d":12.4,"v":0.625},{"s":"BEA-AO(0,05)-DSI(0,2)","d":14.8,"v":0.551},{"s":"BEA-AO(0,05)-DSI(0,2)","d":16.4,"v":0.404},{"s":"BEA-AO(0,05)-DSI(0,2)","d":19.5,"v":0.265},{"s":"BEA-AO(0,05)-DSI(0,2)","d":23.2,"v":0.18},{"s":"BEA-AO(0,05)-DSI(0,2)","d":26.1,"v":0.143},{"s":"BEA-AO(0,05)-DSI(0,2)","d":29.7,"v":0.11},
{"s":"BEA-AO(0,1)-DSI(0,2)","d":3.1,"v":0.249},{"s":"BEA-AO(0,1)-DSI(0,2)","d":3.31,"v":0.261},{"s":"BEA-AO(0,1)-DSI(0,2)","d":3.53,"v":0.278},{"s":"BEA-AO(0,1)-DSI(0,2)","d":3.77,"v":0.29},{"s":"BEA-AO(0,1)-DSI(0,2)","d":4.02,"v":0.306},{"s":"BEA-AO(0,1)-DSI(0,2)","d":4.29,"v":0.327},{"s":"BEA-AO(0,1)-DSI(0,2)","d":4.57,"v":0.347},{"s":"BEA-AO(0,1)-DSI(0,2)","d":4.83,"v":0.364},{"s":"BEA-AO(0,1)-DSI(0,2)","d":5.09,"v":0.384},{"s":"BEA-AO(0,1)-DSI(0,2)","d":5.43,"v":0.404},{"s":"BEA-AO(0,1)-DSI(0,2)","d":5.79,"v":0.429},{"s":"BEA-AO(0,1)-DSI(0,2)","d":6.11,"v":0.482},{"s":"BEA-AO(0,1)-DSI(0,2)","d":6.59,"v":0.47},{"s":"BEA-AO(0,1)-DSI(0,2)","d":7.11,"v":0.523},{"s":"BEA-AO(0,1)-DSI(0,2)","d":7.66,"v":0.568},{"s":"BEA-AO(0,1)-DSI(0,2)","d":8.26,"v":0.617},{"s":"BEA-AO(0,1)-DSI(0,2)","d":9.04,"v":0.666},{"s":"BEA-AO(0,1)-DSI(0,2)","d":9.87,"v":0.727},{"s":"BEA-AO(0,1)-DSI(0,2)","d":10.92,"v":0.788},{"s":"BEA-AO(0,1)-DSI(0,2)","d":12.2,"v":0.841},{"s":"BEA-AO(0,1)-DSI(0,2)","d":13.9,"v":0.86},{"s":"BEA-AO(0,1)-DSI(0,2)","d":16.0,"v":0.844},{"s":"BEA-AO(0,1)-DSI(0,2)","d":18.9,"v":0.802},{"s":"BEA-AO(0,1)-DSI(0,2)","d":22.3,"v":0.779},{"s":"BEA-AO(0,1)-DSI(0,2)","d":25.4,"v":0.784},{"s":"BEA-AO(0,1)-DSI(0,2)","d":29.2,"v":0.806},
{"s":"BEA-AO(0,05)-DSI(0,1)","d":3.04,"v":0.1225},{"s":"BEA-AO(0,05)-DSI(0,1)","d":3.24,"v":0.127},{"s":"BEA-AO(0,05)-DSI(0,1)","d":3.46,"v":0.131},{"s":"BEA-AO(0,05)-DSI(0,1)","d":3.73,"v":0.135},{"s":"BEA-AO(0,05)-DSI(0,1)","d":3.98,"v":0.139},{"s":"BEA-AO(0,05)-DSI(0,1)","d":4.24,"v":0.147},{"s":"BEA-AO(0,05)-DSI(0,1)","d":4.52,"v":0.151},{"s":"BEA-AO(0,05)-DSI(0,1)","d":4.83,"v":0.159},{"s":"BEA-AO(0,05)-DSI(0,1)","d":5.15,"v":0.167},{"s":"BEA-AO(0,05)-DSI(0,1)","d":5.43,"v":0.18},{"s":"BEA-AO(0,05)-DSI(0,1)","d":5.79,"v":0.2},{"s":"BEA-AO(0,05)-DSI(0,1)","d":6.18,"v":0.217},{"s":"BEA-AO(0,05)-DSI(0,1)","d":6.66,"v":0.237},{"s":"BEA-AO(0,05)-DSI(0,1)","d":7.11,"v":0.278},{"s":"BEA-AO(0,05)-DSI(0,1)","d":7.66,"v":0.298},{"s":"BEA-AO(0,05)-DSI(0,1)","d":8.35,"v":0.331},{"s":"BEA-AO(0,05)-DSI(0,1)","d":9.1,"v":0.38},{"s":"BEA-AO(0,05)-DSI(0,1)","d":9.91,"v":0.437},{"s":"BEA-AO(0,05)-DSI(0,1)","d":10.95,"v":0.494},{"s":"BEA-AO(0,05)-DSI(0,1)","d":12.3,"v":0.588},{"s":"BEA-AO(0,05)-DSI(0,1)","d":13.9,"v":0.682},{"s":"BEA-AO(0,05)-DSI(0,1)","d":16.0,"v":0.78},{"s":"BEA-AO(0,05)-DSI(0,1)","d":19.3,"v":0.87},{"s":"BEA-AO(0,05)-DSI(0,1)","d":22.3,"v":0.813},{"s":"BEA-AO(0,05)-DSI(0,1)","d":25.5,"v":0.739},{"s":"BEA-AO(0,05)-DSI(0,1)","d":29.2,"v":0.698},
{"s":"BEA-DSI(0,2)","d":3.04,"v":0.061},{"s":"BEA-DSI(0,2)","d":3.24,"v":0.057},{"s":"BEA-DSI(0,2)","d":3.46,"v":0.061},{"s":"BEA-DSI(0,2)","d":3.73,"v":0.065},{"s":"BEA-DSI(0,2)","d":3.98,"v":0.069},{"s":"BEA-DSI(0,2)","d":4.24,"v":0.074},{"s":"BEA-DSI(0,2)","d":4.52,"v":0.086},{"s":"BEA-DSI(0,2)","d":4.77,"v":0.102},{"s":"BEA-DSI(0,2)","d":5.09,"v":0.127},{"s":"BEA-DSI(0,2)","d":5.43,"v":0.159},{"s":"BEA-DSI(0,2)","d":5.79,"v":0.188},{"s":"BEA-DSI(0,2)","d":6.18,"v":0.221},{"s":"BEA-DSI(0,2)","d":6.59,"v":0.261},{"s":"BEA-DSI(0,2)","d":7.11,"v":0.31},{"s":"BEA-DSI(0,2)","d":7.66,"v":0.368},{"s":"BEA-DSI(0,2)","d":8.26,"v":0.433},{"s":"BEA-DSI(0,2)","d":9.1,"v":0.519},{"s":"BEA-DSI(0,2)","d":9.91,"v":0.609},{"s":"BEA-DSI(0,2)","d":10.95,"v":0.723},{"s":"BEA-DSI(0,2)","d":12.3,"v":0.817},{"s":"BEA-DSI(0,2)","d":13.85,"v":0.919},{"s":"BEA-DSI(0,2)","d":16.1,"v":1.073},{"s":"BEA-DSI(0,2)","d":19.2,"v":1.065},{"s":"BEA-DSI(0,2)","d":22.4,"v":1.005},{"s":"BEA-DSI(0,2)","d":25.5,"v":0.907},{"s":"BEA-DSI(0,2)","d":29.2,"v":0.768},{"s":"BEA-DSI(0,2)","d":29.9,"v":1.6}
]
},
"hconcat": [
{
  "width": 355, "height": 516,
  "data": {"name": "a"},
  "title": {"text": "(a)", "dx": -88, "offset": 41},
  "resolve": {"axis": {"x": "independent", "y": "independent"}},
  "encoding": {
    "x": {"field": "p", "type": "quantitative", "scale": {"domain": [0, 1], "nice": false, "zero": false}, "axis": null},
    "y": {"field": "v", "type": "quantitative", "scale": {"domain": [0, 1000], "nice": false}, "axis": null},
    "stroke": {"field": "s", "type": "nominal", "sort": null, "legend": {"title": null, "legendX": 1, "legendY": 2, "padding": 3, "labelFontSize": 15.5},
      "scale": {"domain": ["HB_Adsorção","HB_Dessorção","BEA-DSI(0,2)_Adsorção","BEA-DSI(0,2)_Dessorção","BEA-AO(0,05)-DSI(0,2)_Adsorção","BEA-AO(0,05)-DSI(0,2)_Dessorção"], "range": ["#000000","#000000","#FF8000","#FF8000","#FF0000","#FF0000"]}},
    "fill": {"field": "s", "type": "nominal", "sort": null, "legend": {"title": null, "legendX": 1, "legendY": 2, "padding": 3, "labelFontSize": 15.5},
      "scale": {"domain": ["HB_Adsorção","HB_Dessorção","BEA-DSI(0,2)_Adsorção","BEA-DSI(0,2)_Dessorção","BEA-AO(0,05)-DSI(0,2)_Adsorção","BEA-AO(0,05)-DSI(0,2)_Dessorção"], "range": ["#000000","#FFFFFF","#FF8000","#FFFFFF","#FF0000","#FFFFFF"]}}
  },
  "layer": [
    {"mark": {"type": "line", "strokeWidth": 1},
     "encoding": {"fill": {"value": null},
       "x": {"field": "p", "type": "quantitative", "scale": {"domain": [0, 1], "nice": false, "zero": false},
         "axis": {"title": "Pressão Parcial (P/P₀)", "orient": "bottom", "values": [0,0.2,0.4,0.6,0.8,1], "format": ".1f", "tickSize": 7, "labelPadding": 6, "titlePadding": 12}},
       "y": {"field": "v", "type": "quantitative", "scale": {"domain": [0, 1000], "nice": false},
         "axis": {"title": "Volume adsorvido/dessorvido de N₂ (cm³g⁻¹)", "orient": "left", "values": [0,100,200,300,400,500,600,700,800,900,1000], "format": "d", "tickSize": 8, "labelPadding": 6, "titlePadding": 20}}}},
    {"transform": [{"filter": "indexof(datum.s,'HB')===0"}], "mark": {"type": "point", "shape": "square", "size": 130, "strokeWidth": 1.2, "opacity": 1}},
    {"transform": [{"filter": "indexof(datum.s,'BEA-DSI')===0"}], "mark": {"type": "point", "shape": "diamond", "size": 170, "strokeWidth": 1.2, "opacity": 1}},
    {"transform": [{"filter": "indexof(datum.s,'BEA-AO')===0"}], "mark": {"type": "point", "shape": "triangle-down", "size": 150, "strokeWidth": 1.2, "opacity": 1}},
    {"mark": {"type": "point", "opacity": 0},
     "encoding": {
       "x": {"field": "p", "type": "quantitative", "scale": {"domain": [0, 1], "nice": false, "zero": false},
         "axis": {"title": null, "orient": "bottom", "values": [0.1,0.3,0.5,0.7,0.9], "labels": false, "tickSize": 4}},
       "y": {"field": "v", "type": "quantitative", "scale": {"domain": [0, 1000], "nice": false},
         "axis": {"title": null, "orient": "left", "values": [50,150,250,350,450,550,650,750,850,950], "labels": false, "tickSize": 4}},
       "shape": {"field": "s", "type": "nominal", "sort": null, "legend": {"title": null, "legendX": 1, "legendY": 2, "padding": 3, "labelFontSize": 15.5},
       "scale": {"domain": ["HB_Adsorção","HB_Dessorção","BEA-DSI(0,2)_Adsorção","BEA-DSI(0,2)_Dessorção","BEA-AO(0,05)-DSI(0,2)_Adsorção","BEA-AO(0,05)-DSI(0,2)_Dessorção"], "range": ["M-1.107,0H0.756M0.756,-0.78H2.316V0.78H0.756ZM2.316,0H4.18","M-1.107,0H0.756M0.756,-0.78H2.316V0.78H0.756ZM2.316,0H4.18","M-1.107,0H0.586M0.586,0L1.536,-0.95L2.486,0L1.536,0.95ZM2.486,0H4.18","M-1.107,0H0.586M0.586,0L1.536,-0.95L2.486,0L1.536,0.95ZM2.486,0H4.18","M-1.107,0H1.04M0.636,-0.7H2.436L1.536,0.85ZM2.03,0H4.18","M-1.107,0H1.04M0.636,-0.7H2.436L1.536,0.85ZM2.03,0H4.18"]}}}}
  ]
},
{
  "width": 357, "height": 514,
  "data": {"name": "b"},
  "title": {"text": "(b)", "dx": -103, "offset": 41},
  "resolve": {"axis": {"x": "independent", "y": "independent"}},
  "encoding": {
    "x": {"field": "p", "type": "quantitative", "scale": {"domain": [0, 1], "nice": false, "zero": false}, "axis": null},
    "y": {"field": "v", "type": "quantitative", "scale": {"domain": [0, 1000], "nice": false}, "axis": null},
    "stroke": {"field": "s", "type": "nominal", "sort": null, "legend": {"title": null, "legendX": 2, "legendY": 13, "padding": 5, "labelFontSize": 15.5},
      "scale": {"domain": ["BEA-AO(0,05)-DSI(0,1)_Adsorção","BEA-AO(0,05)-DSI(0,1_Dessorção","BEA-AO(0,1)-DSI(0,2)_Adsorção","BEA-AO(0,1)-DSI(0,2)_Dessorção"], "range": ["#00FF00","#00FF00","#0000FF","#0000FF"]}},
    "fill": {"field": "s", "type": "nominal", "sort": null, "legend": {"title": null, "legendX": 2, "legendY": 13, "padding": 5, "labelFontSize": 15.5},
      "scale": {"domain": ["BEA-AO(0,05)-DSI(0,1)_Adsorção","BEA-AO(0,05)-DSI(0,1_Dessorção","BEA-AO(0,1)-DSI(0,2)_Adsorção","BEA-AO(0,1)-DSI(0,2)_Dessorção"], "range": ["#00FF00","#FFFFFF","#0000FF","#FFFFFF"]}}
  },
  "layer": [
    {"mark": {"type": "line", "strokeWidth": 1},
     "encoding": {"fill": {"value": null},
       "x": {"field": "p", "type": "quantitative", "scale": {"domain": [0, 1], "nice": false, "zero": false},
         "axis": {"title": "Pressão Parcial (P/P₀)", "orient": "bottom", "values": [0,0.2,0.4,0.6,0.8,1], "format": ".1f", "tickSize": 7, "labelPadding": 6, "titlePadding": 12}},
       "y": {"field": "v", "type": "quantitative", "scale": {"domain": [0, 1000], "nice": false},
         "axis": {"title": "Volume adsorvido/dessorvido de N₂ (cm³g⁻¹)", "orient": "left", "values": [0,100,200,300,400,500,600,700,800,900,1000], "format": "d", "tickSize": 8, "labelPadding": 6, "titlePadding": 31}}}},
    {"transform": [{"filter": "indexof(datum.s,'DSI(0,1')>=0"}], "mark": {"type": "point", "shape": "triangle-up", "size": 160, "strokeWidth": 1.2, "opacity": 1}},
    {"transform": [{"filter": "indexof(datum.s,'DSI(0,2)')>=0"}], "mark": {"type": "point", "shape": "circle", "size": 140, "strokeWidth": 1.2, "opacity": 1}},
    {"mark": {"type": "point", "opacity": 0},
     "encoding": {
       "x": {"field": "p", "type": "quantitative", "scale": {"domain": [0, 1], "nice": false, "zero": false},
         "axis": {"title": null, "orient": "bottom", "values": [0.1,0.3,0.5,0.7,0.9], "labels": false, "tickSize": 4}},
       "y": {"field": "v", "type": "quantitative", "scale": {"domain": [0, 1000], "nice": false},
         "axis": {"title": null, "orient": "left", "values": [50,150,250,350,450,550,650,750,850,950], "labels": false, "tickSize": 4}},
       "shape": {"field": "s", "type": "nominal", "sort": null, "legend": {"title": null, "legendX": 2, "legendY": 13, "padding": 5, "labelFontSize": 15.5},
       "scale": {"domain": ["BEA-AO(0,05)-DSI(0,1)_Adsorção","BEA-AO(0,05)-DSI(0,1_Dessorção","BEA-AO(0,1)-DSI(0,2)_Adsorção","BEA-AO(0,1)-DSI(0,2)_Dessorção"], "range": ["M-1.107,0H1.04M1.536,-0.85L2.436,0.7H0.636ZM2.03,0H4.18","M-1.107,0H1.04M1.536,-0.85L2.436,0.7H0.636ZM2.03,0H4.18","M-1.107,0H0.736M2.336,0A0.8,0.8,0,1,1,0.736,0A0.8,0.8,0,1,1,2.336,0ZM2.336,0H4.18","M-1.107,0H0.736M2.336,0A0.8,0.8,0,1,1,0.736,0A0.8,0.8,0,1,1,2.336,0ZM2.336,0H4.18"]}}}}
  ]
},
{
  "width": 357, "height": 522,
  "data": {"name": "c"},
  "title": {"text": "(c)", "dx": -18, "offset": 38},
  "resolve": {"axis": {"x": "independent", "y": "independent"}},
  "encoding": {
    "x": {"field": "d", "type": "quantitative", "scale": {"type": "log", "domain": [3, 30], "nice": false, "zero": false}, "axis": null},
    "y": {"field": "v", "type": "quantitative", "scale": {"domain": [0, 1.25], "nice": false}, "axis": null},
    "stroke": {"field": "s", "type": "nominal", "sort": null, "legend": {"title": null, "legendX": 10, "legendY": 9, "padding": 8, "labelFontSize": 15},
      "scale": {"domain": ["HB","BEA-AO(0,05)-DSI(0,2)","BEA-AO(0,1)-DSI(0,2)","BEA-AO(0,05)-DSI(0,1)","BEA-DSI(0,2)"], "range": ["#000000","#FF0000","#0000FF","#00FF00","#FF8000"]}},
    "fill": {"field": "s", "type": "nominal", "sort": null, "legend": {"title": null, "legendX": 10, "legendY": 9, "padding": 8, "labelFontSize": 15},
      "scale": {"domain": ["HB","BEA-AO(0,05)-DSI(0,2)","BEA-AO(0,1)-DSI(0,2)","BEA-AO(0,05)-DSI(0,1)","BEA-DSI(0,2)"], "range": ["#000000","#FF0000","#0000FF","#00FF00","#FF8000"]}}
  },
  "layer": [
    {"mark": {"type": "line", "strokeWidth": 1, "clip": true},
     "encoding": {"fill": {"value": null},
       "x": {"field": "d", "type": "quantitative", "scale": {"type": "log", "domain": [3, 30], "nice": false, "zero": false},
         "axis": {"title": "Diâmetro de poros (nm)", "orient": "bottom", "values": [5,10,15,20,25,30], "format": ".0f", "tickSize": 7, "labelPadding": 7, "titlePadding": 8}},
       "y": {"field": "v", "type": "quantitative", "scale": {"domain": [0, 1.25], "nice": false},
         "axis": {"title": "dV/dlog(D) Volume de Poros (cm³/g)", "orient": "left", "values": [0,0.25,0.5,0.75,1,1.25], "format": ".2f", "tickSize": 8, "labelPadding": 6, "titlePadding": 14}}}},
    {"transform": [{"filter": "datum.s==='HB'"}], "mark": {"type": "point", "shape": "square", "size": 120, "strokeWidth": 1, "opacity": 1}},
    {"transform": [{"filter": "datum.s==='BEA-AO(0,05)-DSI(0,2)'"}], "mark": {"type": "point", "shape": "triangle-down", "size": 150, "strokeWidth": 1, "opacity": 1}},
    {"transform": [{"filter": "datum.s==='BEA-AO(0,1)-DSI(0,2)'"}], "mark": {"type": "point", "shape": "circle", "size": 130, "strokeWidth": 1, "opacity": 1}},
    {"transform": [{"filter": "datum.s==='BEA-AO(0,05)-DSI(0,1)'"}], "mark": {"type": "point", "shape": "triangle-up", "size": 150, "strokeWidth": 1, "opacity": 1}},
    {"transform": [{"filter": "datum.s==='BEA-DSI(0,2)' && datum.v <= 1.25"}], "mark": {"type": "point", "shape": "diamond", "size": 160, "strokeWidth": 1, "opacity": 1}},
    {"transform": [{"filter": "datum.v <= 1.25"}],
     "mark": {"type": "point", "opacity": 0},
     "encoding": {
       "x": {"field": "d", "type": "quantitative", "scale": {"type": "log", "domain": [3, 30], "nice": false, "zero": false},
         "axis": {"title": null, "orient": "bottom", "values": [3.5,4,4.5,5.5,6,6.5,7,7.5,8,8.5,9,9.5,10.5,11,11.5,12,12.5,13,13.5,14,14.5,15.5,16,16.5,17,17.5,18,18.5,19,19.5,20.5,21,21.5,22,22.5,23,23.5,24,24.5,25.5,26,26.5,27,27.5,28,28.5,29,29.5], "labels": false, "tickSize": 4}},
       "y": {"field": "v", "type": "quantitative", "scale": {"domain": [0, 1.25], "nice": false},
         "axis": {"title": null, "orient": "left", "values": [0.125,0.375,0.625,0.875,1.125], "labels": false, "tickSize": 4}},
       "shape": {"field": "s", "type": "nominal", "sort": null, "legend": {"title": null, "legendX": 10, "legendY": 9, "padding": 8, "labelFontSize": 15},
       "scale": {"domain": ["HB","BEA-AO(0,05)-DSI(0,2)","BEA-AO(0,1)-DSI(0,2)","BEA-AO(0,05)-DSI(0,1)","BEA-DSI(0,2)"], "range": ["M-1.107,0H0.756M0.756,-0.78H2.316V0.78H0.756ZM2.316,0H4.18","M-1.107,0H1.04M0.636,-0.7H2.436L1.536,0.85ZM2.03,0H4.18","M-1.107,0H0.736M2.336,0A0.8,0.8,0,1,1,0.736,0A0.8,0.8,0,1,1,2.336,0ZM2.336,0H4.18","M-1.107,0H1.04M1.536,-0.85L2.436,0.7H0.636ZM2.03,0H4.18","M-1.107,0H0.586M0.586,0L1.536,-0.95L2.486,0L1.536,0.95ZM2.486,0H4.18"]}}}}
  ]
}
]
}
